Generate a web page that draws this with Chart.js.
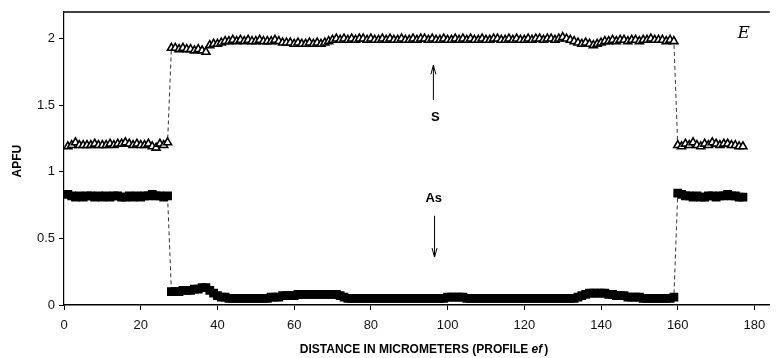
<!DOCTYPE html>
<html lang="en">
<head>
  <meta charset="UTF-8">
  <title>APFU profile ef</title>
  <script src="https://cdn.jsdelivr.net/npm/chart.js"></script>
  <style>
    body {
      margin: 0;
      background: #fff;
    }
    .chart-box {
      width: 776px;
      height: 358px;
    }
  </style>
</head>
<body>

  <div class="chart-box">
    <canvas id="profileChart"></canvas>
  </div>

  <script>
    // distance along profile ef (micrometers)
    const distance = [
      1, 2, 3, 4, 5, 6, 7, 8, 9, 10,
      11, 12, 13, 14, 15, 16, 17, 18, 19, 20,
      21, 22, 23, 24, 25, 26, 27,
      28, 29, 30, 31, 32, 33, 34, 35, 36, 37,
      38, 39, 40, 41, 42, 43, 44, 45, 46, 47,
      48, 49, 50, 51, 52, 53, 54, 55, 56, 57,
      58, 59, 60, 61, 62, 63, 64, 65, 66, 67,
      68, 69, 70, 71, 72, 73, 74, 75, 76, 77,
      78, 79, 80, 81, 82, 83, 84, 85, 86, 87,
      88, 89, 90, 91, 92, 93, 94, 95, 96, 97,
      98, 99, 100, 101, 102, 103, 104, 105, 106, 107,
      108, 109, 110, 111, 112, 113, 114, 115, 116, 117,
      118, 119, 120, 121, 122, 123, 124, 125, 126, 127,
      128, 129, 130, 131, 132, 133, 134, 135, 136, 137,
      138, 139, 140, 141, 142, 143, 144, 145, 146, 147,
      148, 149, 150, 151, 152, 153, 154, 155, 156, 157,
      158, 159,
      160, 161, 162, 163, 164, 165, 166, 167, 168, 169,
      170, 171, 172, 173, 174, 175, 176, 177
    ];

    const sValues = [
      1.19, 1.20, 1.22, 1.20, 1.20, 1.20, 1.20, 1.21, 1.20, 1.20,
      1.20, 1.21, 1.20, 1.21, 1.21, 1.22, 1.21, 1.20, 1.21, 1.20,
      1.20, 1.21, 1.19, 1.18, 1.21, 1.20, 1.22,
      1.93, 1.93, 1.92, 1.93, 1.92, 1.92, 1.91, 1.92, 1.91, 1.90,
      1.95, 1.96, 1.96, 1.97, 1.98, 1.98, 1.99, 1.98, 1.99, 1.98,
      1.99, 1.98, 1.98, 1.99, 1.98, 1.98, 1.98, 1.99, 1.98, 1.97,
      1.97, 1.97, 1.96, 1.97, 1.96, 1.96, 1.97, 1.96, 1.97, 1.96,
      1.97, 1.98, 1.99, 2.00, 1.99, 2.00, 1.99, 2.00, 1.99, 2.00,
      2.00, 1.99, 2.00, 1.99, 1.99, 2.00, 1.99, 2.00, 1.99, 1.99,
      2.00, 1.99, 1.99, 2.00, 1.99, 2.00, 2.00, 1.99, 2.00, 1.99,
      1.99, 2.00, 1.99, 1.99, 2.00, 1.99, 2.00, 1.99, 2.00, 1.99,
      1.99, 2.00, 1.99, 1.99, 2.00, 2.00, 1.99, 1.99, 2.00, 1.99,
      2.00, 1.99, 1.99, 2.00, 1.99, 2.00, 2.00, 1.99, 2.00, 2.00,
      1.99, 2.00, 2.01, 2.00, 1.99, 1.98, 1.97, 1.96, 1.97, 1.96,
      1.95, 1.96, 1.97, 1.98, 1.98, 1.99, 1.98, 1.99, 1.99, 1.98,
      1.99, 1.99, 1.98, 1.99, 1.99, 2.00, 1.99, 1.99, 1.99, 1.98,
      1.99, 1.98,
      1.20, 1.19, 1.21, 1.20, 1.22, 1.20, 1.19, 1.21, 1.20, 1.22,
      1.21, 1.20, 1.21, 1.21, 1.20, 1.20, 1.19, 1.19
    ];

    const asValues = [
      0.83, 0.82, 0.81, 0.82, 0.81, 0.82, 0.82, 0.81, 0.82, 0.81,
      0.82, 0.81, 0.82, 0.82, 0.81, 0.81, 0.82, 0.81, 0.82, 0.81,
      0.82, 0.82, 0.83, 0.82, 0.82, 0.81, 0.82,
      0.10, 0.10, 0.10, 0.11, 0.11, 0.11, 0.12, 0.12, 0.13, 0.13,
      0.11, 0.09, 0.07, 0.06, 0.06, 0.05, 0.05, 0.05, 0.05, 0.05,
      0.05, 0.05, 0.05, 0.05, 0.05, 0.05, 0.06, 0.06, 0.06, 0.07,
      0.07, 0.07, 0.07, 0.08, 0.08, 0.08, 0.08, 0.08, 0.08, 0.08,
      0.08, 0.08, 0.08, 0.08, 0.07, 0.06, 0.05, 0.05, 0.05, 0.05,
      0.05, 0.05, 0.05, 0.05, 0.05, 0.05, 0.05, 0.05, 0.05, 0.05,
      0.05, 0.05, 0.05, 0.05, 0.05, 0.05, 0.05, 0.05, 0.05, 0.05,
      0.05, 0.05, 0.06, 0.06, 0.06, 0.06, 0.06, 0.05, 0.05, 0.05,
      0.05, 0.05, 0.05, 0.05, 0.05, 0.05, 0.05, 0.05, 0.05, 0.05,
      0.05, 0.05, 0.05, 0.05, 0.05, 0.05, 0.05, 0.05, 0.05, 0.05,
      0.05, 0.05, 0.05, 0.05, 0.05, 0.05, 0.06, 0.07, 0.08, 0.09,
      0.09, 0.09, 0.09, 0.09, 0.08, 0.08, 0.07, 0.07, 0.07, 0.06,
      0.06, 0.06, 0.06, 0.05, 0.05, 0.05, 0.05, 0.05, 0.05, 0.05,
      0.05, 0.06,
      0.84, 0.83, 0.82, 0.82, 0.81, 0.82, 0.81, 0.81, 0.82, 0.82,
      0.81, 0.82, 0.82, 0.83, 0.82, 0.82, 0.81, 0.81
    ];

    const xTicks = [0, 20, 40, 60, 80, 100, 120, 140, 160, 180];
    const yTicks = [0, 0.5, 1, 1.5, 2];

    const tickFont = { family: 'Arial, "Liberation Sans", sans-serif', size: 13 };

    // top border, axis titles, element labels and arrows
    const decorations = {
      id: 'decorations',
      afterDraw(chart) {
        const ctx = chart.ctx;
        const area = chart.chartArea;
        const x = chart.scales.x;
        const y = chart.scales.y;
        ctx.save();
        ctx.strokeStyle = '#000';
        ctx.fillStyle = '#000';

        ctx.lineWidth = 1.5;
        ctx.beginPath();
        ctx.moveTo(area.left, area.top);
        ctx.lineTo(area.right, area.top);
        ctx.stroke();

        // y title
        ctx.font = 'bold 12px Arial, "Liberation Sans", sans-serif';
        ctx.textAlign = 'center';
        ctx.textBaseline = 'middle';
        ctx.save();
        ctx.translate(18, y.getPixelForValue(1.08));
        ctx.rotate(-Math.PI / 2);
        ctx.fillText('APFU', 0, 0);
        ctx.restore();

        // x title with italic "ef"
        const partA = 'DISTANCE IN MICROMETERS (PROFILE ';
        const partB = 'ef';
        const partC = ')';
        const fA = 'bold 12px Arial, "Liberation Sans", sans-serif';
        const fB = 'bold italic 12px Arial, "Liberation Sans", sans-serif';
        ctx.font = fA;
        const wA = ctx.measureText(partA).width;
        const wC = ctx.measureText(partC).width;
        ctx.font = fB;
        const wB = ctx.measureText(partB).width + 2;
        let tx = 424 - (wA + wB + wC) / 2;
        const ty = 350;
        ctx.textAlign = 'left';
        ctx.font = fA;
        ctx.fillText(partA, tx, ty);
        ctx.font = fB;
        ctx.fillText(partB, tx + wA, ty);
        ctx.font = fA;
        ctx.fillText(partC, tx + wA + wB, ty);

        // labels
        ctx.textAlign = 'center';
        ctx.font = 'bold 13px Arial, "Liberation Sans", sans-serif';
        ctx.fillText('S', x.getPixelForValue(96.8), y.getPixelForValue(1.41));
        ctx.fillText('As', x.getPixelForValue(96.4), y.getPixelForValue(0.80));

        ctx.font = 'italic 17px "DejaVu Serif", "Liberation Serif", serif';
        ctx.fillText('E', x.getPixelForValue(177.2), y.getPixelForValue(2.04));

        // arrows
        ctx.lineWidth = 1;
        const sx = x.getPixelForValue(96.3);
        const sTop = y.getPixelForValue(1.80);
        const sBot = y.getPixelForValue(1.54);
        ctx.beginPath();
        ctx.moveTo(sx, sBot);
        ctx.lineTo(sx, sTop);
        ctx.moveTo(sx - 2.5, sTop + 9);
        ctx.lineTo(sx, sTop);
        ctx.lineTo(sx + 2.5, sTop + 9);
        ctx.stroke();

        const ax = x.getPixelForValue(96.6);
        const aTop = y.getPixelForValue(0.67);
        const aBot = y.getPixelForValue(0.36);
        ctx.beginPath();
        ctx.moveTo(ax, aTop);
        ctx.lineTo(ax, aBot);
        ctx.moveTo(ax - 2.5, aBot - 9);
        ctx.lineTo(ax, aBot);
        ctx.lineTo(ax + 2.5, aBot - 9);
        ctx.stroke();

        ctx.restore();
      }
    };

    const ctx = document.getElementById('profileChart').getContext('2d');
    new Chart(ctx, {
      type: 'line',
      data: {
        datasets: [{
          label: 'S',
          data: distance.map((d, i) => ({ x: d, y: sValues[i] })),
          borderColor: '#000',
          borderWidth: 0.8,
          borderDash: [4, 3],
          pointStyle: 'triangle',
          pointRadius: 4.6,
          pointBackgroundColor: '#fff',
          pointBorderColor: '#000',
          pointBorderWidth: 1.6,
          tension: 0
        }, {
          label: 'As',
          data: distance.map((d, i) => ({ x: d, y: asValues[i] })),
          borderColor: '#000',
          borderWidth: 0.8,
          borderDash: [4, 3],
          pointStyle: 'rect',
          pointRadius: 6.2,
          pointBackgroundColor: '#000',
          pointBorderColor: '#000',
          pointBorderWidth: 0,
          tension: 0
        }]
      },
      options: {
        responsive: true,
        maintainAspectRatio: false,
        animation: false,
        layout: { padding: { top: 12, left: 0, right: 0, bottom: 0 } },
        scales: {
          x: {
            type: 'linear',
            min: 0,
            max: 184,
            afterBuildTicks: scale => { scale.ticks = xTicks.map(v => ({ value: v })); },
            afterFit: scale => { scale.height = 53; },
            ticks: { font: tickFont, color: '#111', padding: 8, maxRotation: 0 },
            grid: { drawOnChartArea: false, color: '#000', tickLength: 5 },
            border: { color: '#000', width: 1.5 }
          },
          y: {
            min: 0,
            max: 2.2,
            afterBuildTicks: scale => { scale.ticks = yTicks.map(v => ({ value: v })); },
            afterFit: scale => { scale.width = 64; },
            ticks: { font: tickFont, color: '#111', padding: 4, callback: v => String(v) },
            grid: { drawOnChartArea: false, color: '#000', tickLength: 5 },
            border: { color: '#000', width: 1.2 }
          }
        },
        plugins: {
          legend: { display: false },
          tooltip: { enabled: false }
        }
      },
      plugins: [decorations]
    });
  </script>

</body>
</html>
